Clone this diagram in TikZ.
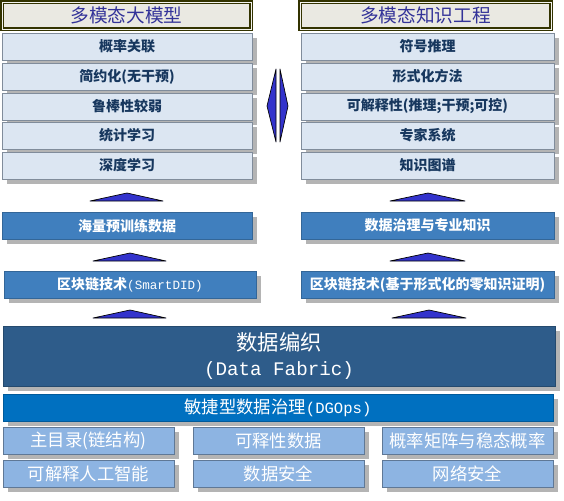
\documentclass[tikz,border=0pt]{standalone}
\usepackage{fontspec}
\setmainfont{Noto Sans CJK SC}
\newfontfamily\latmono[Scale=0.9]{Liberation Mono}
\usetikzlibrary{shadows}

\definecolor{titlefill}{RGB}{234,233,226}
\definecolor{titleline}{RGB}{51,51,0}
\definecolor{titletext}{RGB}{51,51,153}
\definecolor{stackfill}{RGB}{220,230,242}
\definecolor{stackline}{RGB}{128,140,155}
\definecolor{stacktext}{RGB}{23,55,94}
\definecolor{midfill}{RGB}{64,127,190}
\definecolor{fabricfill}{RGB}{46,92,138}
\definecolor{dgfill}{RGB}{0,112,192}
\definecolor{basefill}{RGB}{141,180,226}
\definecolor{baseline}{RGB}{95,120,150}
\definecolor{shadowgrey}{RGB}{180,180,180}
\definecolor{arrowblue}{RGB}{51,51,204}

\tikzset{every picture/.style={line width=0.75pt}}
\tikzset{
  boxshadow/.style={drop shadow={shadow xshift=3.75pt, shadow yshift=-3.75pt, opacity=1, fill=shadowgrey}},
  plainbox/.style={anchor=north west, inner sep=0pt, outer sep=0pt, line width=0.5pt},
  titlebox/.style={plainbox, draw=titleline, double=titlefill!50!white, double distance=0.7pt, line width=1.1pt,
    fill=titlefill, text=titletext, font=\fontsize{14}{16}\selectfont, minimum height=20.25pt},
  stackbox/.style={plainbox, boxshadow, draw=stackline, fill=stackfill, text=stacktext,
    font=\bfseries\fontsize{10.5}{12}\selectfont, minimum height=20.25pt},
  midbox/.style={plainbox, boxshadow, draw=midfill!80!black, fill=midfill, text=white,
    font=\bfseries\fontsize{10.5}{12}\selectfont, minimum height=20.5pt},
  fabricbox/.style={plainbox, boxshadow, draw=fabricfill!80!black, fill=fabricfill, text=white, align=center,
    font=\fontsize{16}{19}\selectfont, minimum width=414pt, minimum height=45pt},
  dgbox/.style={plainbox, boxshadow, draw=dgfill!80!black, fill=dgfill, text=white,
    font=\fontsize{13}{15}\selectfont, minimum width=412.5pt, minimum height=20.25pt},
  basebox/.style={plainbox, boxshadow, draw=baseline, fill=basefill, text=white,
    font=\fontsize{13}{15}\selectfont, minimum width=128.25pt, minimum height=20.25pt},
  uptri/.style={draw=black, fill=arrowblue, line width=0.5pt, line join=round},
}

\begin{document}
\begin{tikzpicture}[x=0.75pt,y=0.75pt,yscale=-1,xscale=1]
		\useasboundingbox (0,0) rectangle (564,500);
		
		%titles
		\node[titlebox, minimum width=186.75pt] (ltitle) at (2,2) {多模态大模型};
		\node[titlebox, minimum width=188.25pt] (rtitle) at (300,2) {多模态知识工程};
		
		%left stack
		\node[stackbox, minimum width=187.5pt] (lrow1) at (2,33) {概率关联};
		\node[stackbox, minimum width=187.5pt] (lrow2) at (2,63) {简约化(无干预)};
		\node[stackbox, minimum width=187.5pt] (lrow3) at (2,93) {鲁棒性较弱};
		\node[stackbox, minimum width=187.5pt] (lrow4) at (2,122) {统计学习};
		\node[stackbox, minimum width=187.5pt] (lrow5) at (2,152) {深度学习};
		%right stack
		\node[stackbox, minimum width=189.75pt] (rrow1) at (301,33) {符号推理};
		\node[stackbox, minimum width=189.75pt] (rrow2) at (301,63) {形式化方法};
		\node[stackbox, minimum width=189.75pt] (rrow3) at (301,93) {可解释性(推理;干预;可控)};
		\node[stackbox, minimum width=189.75pt] (rrow4) at (301,122) {专家系统};
		\node[stackbox, minimum width=189.75pt] (rrow5) at (301,152) {知识图谱};
		
		%double arrow between stacks
		\draw[uptri] (276,69) -- (267,106) -- (276,142) -- cycle ;
		\draw[uptri] (280,69) -- (288,106) -- (280,142) -- cycle ;
		
		%up arrows
		\draw[uptri] (90,201) -- (127,193) -- (163,201) -- cycle ;
		\draw[uptri] (390,201) -- (428,193) -- (465,201) -- cycle ;
		\draw[uptri] (93,261) -- (130,253) -- (166,261) -- cycle ;
		\draw[uptri] (390,261) -- (428,253) -- (465,261) -- cycle ;
		\draw[uptri] (93,318) -- (130,310) -- (166,318) -- cycle ;
		\draw[uptri] (392,318) -- (429,310) -- (466,318) -- cycle ;
		
		%middle layers
		\node[midbox, minimum width=187.5pt] (ldata) at (2,212) {海量预训练数据};
		\node[midbox, minimum width=189.75pt] (rdata) at (301,212) {数据治理与专业知识};
		\node[midbox, minimum width=189pt] (lchain) at (4,271) {区块链技术{\mdseries\latmono (SmartDID)}};
		\node[midbox, minimum width=189.75pt] (rchain) at (301,271) {区块链技术(基于形式化的零知识证明)};
		
		%data fabric
		\node[fabricbox] (fabric) at (3,326) {数据编织\\{\latmono (Data Fabric)}};
		\node[dgbox] (dgops) at (3,394) {敏捷型数据治理{\latmono (DGOps)}};
		
		%base
		\node[basebox] (base11) at (3,427) {主目录(链结构)};
		\node[basebox] (base12) at (193,427) {可释性数据};
		\node[basebox] (base13) at (382,427) {概率矩阵与稳态概率};
		\node[basebox] (base21) at (3,460) {可解释人工智能};
		\node[basebox] (base22) at (193,460) {数据安全};
		\node[basebox] (base23) at (382,460) {网络安全};
		
	\end{tikzpicture}
\end{document}
